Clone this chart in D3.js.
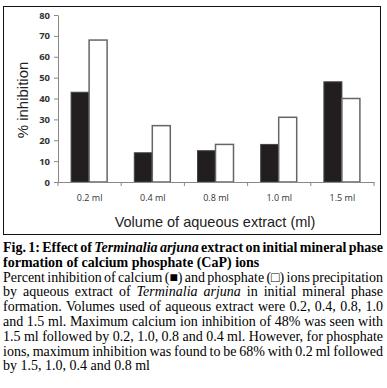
<!DOCTYPE html>
<html>
<head>
<meta charset="utf-8">
<script src="https://cdn.jsdelivr.net/npm/d3@7"></script>
<style>
  body { margin: 0; background: #fff; }
  svg { display: block; }
</style>
</head>
<body>
<div id="graph"></div>
<script>
// Data
var volumes = ["0.2 ml", "0.4 ml", "0.8 ml", "1.0 ml", "1.5 ml"];
var calcium = [43, 14, 15, 18, 48];
var phosphate = [68, 27, 18, 31, 40];
var yTicks = [0, 10, 20, 30, 40, 50, 60, 70, 80];

var W = 387, H = 388;
var svg = d3.select("#graph").append("svg")
    .attr("width", W).attr("height", H);

// chart frame
svg.append("rect")
    .attr("x", 3.5).attr("y", 6.5)
    .attr("width", 377).attr("height", 228)
    .attr("fill", "#fff").attr("stroke", "#111").attr("stroke-width", 1);

var margin = { top: 15, left: 58 },
    width = 374 - 58,
    height = 182 - 15;

var g = svg.append("g")
    .attr("transform", "translate(" + margin.left + "," + margin.top + ")");

var x = d3.scaleBand().domain(volumes).range([0, width]);
var y = d3.scaleLinear().domain([0, 80]).range([height, 0]);
var barW = 18;
var off = (x.bandwidth() - 2 * barW) / 2 - 0.5;

// bars
g.selectAll(".ca").data(volumes).enter().append("rect")
    .attr("class", "ca")
    .attr("x", function(d) { return x(d) + off; })
    .attr("y", function(d, i) { return y(calcium[i]); })
    .attr("width", barW)
    .attr("height", function(d, i) { return height - y(calcium[i]); })
    .attr("fill", "#221e1f").attr("stroke", "#444").attr("stroke-width", 1);

g.selectAll(".ph").data(volumes).enter().append("rect")
    .attr("class", "ph")
    .attr("x", function(d) { return x(d) + off + barW; })
    .attr("y", function(d, i) { return y(phosphate[i]); })
    .attr("width", barW)
    .attr("height", function(d, i) { return height - y(phosphate[i]); })
    .attr("fill", "#fff").attr("stroke", "#666").attr("stroke-width", 1.5);

// axes
var yAxis = g.append("g")
    .call(d3.axisLeft(y).tickValues(yTicks).tickSize(4).tickSizeOuter(0));
yAxis.select(".domain").attr("stroke", "#888");
yAxis.selectAll(".tick line").attr("stroke", "#888");
yAxis.selectAll("text")
    .attr("font-family", "Open Sans, sans-serif").attr("font-size", 9.5)
    .attr("font-weight", "bold").attr("fill", "#333").attr("x", -8);

var xAxis = g.append("g")
    .attr("transform", "translate(0," + height + ")")
    .call(d3.axisBottom(x).tickSize(0));
xAxis.select(".domain").attr("stroke", "#888");
xAxis.selectAll("text")
    .attr("font-family", "Open Sans, sans-serif").attr("font-size", 9)
    .attr("fill", "#333").attr("y", 13);
// x tick marks on category boundaries
var bounds = volumes.map(function(d) { return x(d); }).concat([width]);
xAxis.selectAll(".bound").data(bounds).enter().append("line")
    .attr("x1", function(d) { return d; }).attr("x2", function(d) { return d; })
    .attr("y1", 0).attr("y2", 4).attr("stroke", "#888");

// axis titles
svg.append("text")
    .attr("transform", "translate(28,100) rotate(-90)")
    .attr("text-anchor", "middle")
    .attr("font-family", "Liberation Sans, Arial, sans-serif")
    .attr("font-size", 15).attr("fill", "#222")
    .text("% inhibition");

svg.append("text")
    .attr("x", 215).attr("y", 227)
    .attr("text-anchor", "middle")
    .attr("font-family", "Liberation Sans, Arial, sans-serif")
    .attr("font-size", 14.5).attr("fill", "#222")
    .text("Volume of aqueous extract (ml)");

// caption (justified lines)
var captionLines = [
  { justify: true, parts: [["Fig. 1: Effect of ", "b"], ["Terminalia arjuna", "bi"], [" extract on initial mineral phase", "b"]] },
  { justify: false, parts: [["formation of calcium phosphate (CaP) ions", "b"]] },
  { justify: true, parts: [["Percent inhibition of calcium (\u25A0) and phosphate (\u25A1) ions precipitation", ""]] },
  { justify: true, parts: [["by aqueous extract of ", ""], ["Terminalia arjuna", "i"], [" in initial mineral phase", ""]] },
  { justify: true, parts: [["formation. Volumes used of aqueous extract were 0.2, 0.4, 0.8, 1.0", ""]] },
  { justify: true, parts: [["and 1.5 ml. Maximum calcium ion inhibition of 48% was seen with", ""]] },
  { justify: true, parts: [["1.5 ml followed by 0.2, 1.0, 0.8 and 0.4 ml. However, for phosphate", ""]] },
  { justify: true, parts: [["ions, maximum inhibition was found to be 68% with 0.2 ml followed", ""]] },
  { justify: false, parts: [["by 1.5, 1.0, 0.4 and 0.8 ml", ""]] }
];
var capX0 = 3, capX1 = 383, capY0 = 252, lineH = 14.8, capSize = 14;

captionLines.forEach(function(line, li) {
  // split into words keeping style; a word glued to the previous part has no gap
  var words = [];
  var prevEndsSpace = true;
  line.parts.forEach(function(p) {
    var pieces = p[0].split(" ");
    pieces.forEach(function(w, wi) {
      if (w === "") return;
      var glued = wi === 0 && !prevEndsSpace;
      words.push({ t: w, s: p[1], joinPrev: glued });
    });
    prevEndsSpace = p[0][p[0].length - 1] === " ";
  });
  var yy = capY0 + li * lineH;
  var nodes = words.map(function(w) {
    var t = svg.append("text")
        .attr("y", yy)
        .attr("font-family", "Liberation Serif, Times New Roman, serif")
        .attr("font-size", capSize).attr("fill", "#000")
        .attr("font-weight", w.s.indexOf("b") >= 0 ? "bold" : "normal")
        .attr("font-style", w.s.indexOf("i") >= 0 ? "italic" : "normal")
        .text(w.t);
    return { node: t, w: t.node().getComputedTextLength(), joinPrev: w.joinPrev };
  });
  var space = capSize * 0.25;
  var total = d3.sum(nodes, function(n) { return n.w; });
  var gaps = nodes.filter(function(n, i) { return i > 0 && !n.joinPrev; }).length;
  if (line.justify && gaps > 0) space = Math.max(1.5, (capX1 - capX0 - total) / gaps);
  var cx = capX0;
  nodes.forEach(function(n, i) {
    if (i > 0 && !n.joinPrev) cx += space;
    n.node.attr("x", cx);
    cx += n.w;
  });
});
</script>
</body>
</html>
